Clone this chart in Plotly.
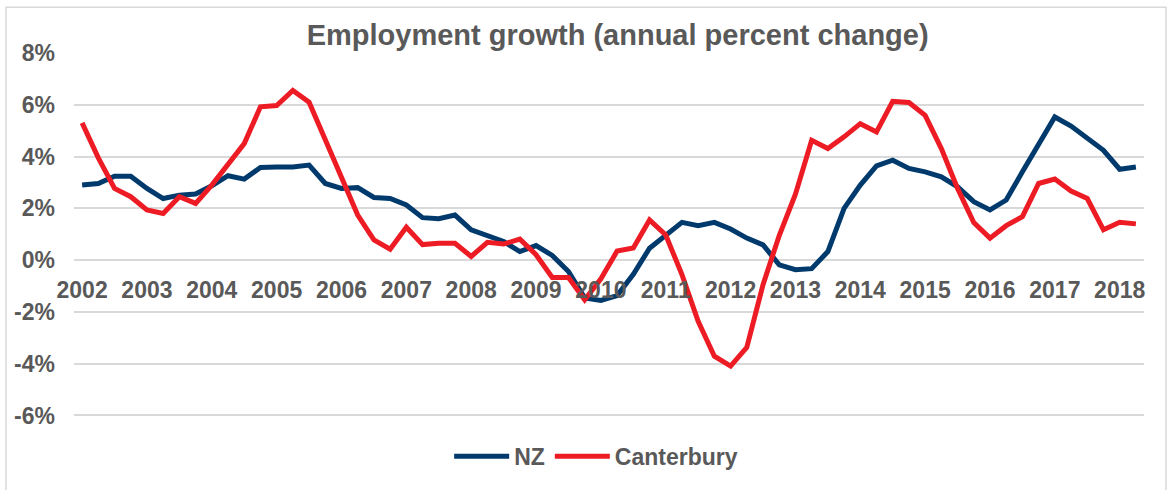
import plotly.graph_objects as go

# ---- data ----
quarters = [f"{y}Q{q}" for y in range(2002, 2019) for q in range(1, 5)][:66]
year_labels = [str(y) for y in range(2002, 2019)]
year_ticks = [f"{y}Q1" for y in range(2002, 2019)]

nz = [2.9, 2.96, 3.24, 3.24, 2.77, 2.38, 2.51, 2.55, 2.87, 3.26, 3.13, 3.58,
      3.6, 3.6, 3.67, 2.96, 2.77, 2.8, 2.42, 2.38, 2.13, 1.64, 1.6,
      1.74, 1.17, 0.95, 0.72, 0.33, 0.56, 0.18, -0.44, -1.46, -1.56, -1.37,
      -0.55, 0.46, 0.97, 1.46, 1.33, 1.46, 1.2, 0.85, 0.59, -0.18, -0.37,
      -0.33, 0.33, 2.0, 2.9, 3.64, 3.86, 3.54, 3.41, 3.22, 2.83, 2.26,
      1.94, 2.32, 3.41, 4.5, 5.53, 5.18, 4.72, 4.24, 3.51, 3.6]

canterbury = [5.3, 3.95, 2.77, 2.45, 1.94, 1.8, 2.45, 2.19, 2.9, 3.73, 4.5, 5.92,
              5.97, 6.55, 6.1, 4.65, 3.2, 1.74, 0.78, 0.42, 1.27, 0.6, 0.65,
              0.65, 0.14, 0.69, 0.62, 0.81, 0.21, -0.67, -0.67, -1.53, -0.72, 0.35,
              0.47, 1.55, 0.97, -0.56, -2.36, -3.71, -4.09, -3.37, -0.95, 0.95, 2.55,
              4.63, 4.31, 4.76, 5.27, 4.95, 6.13, 6.09, 5.59, 4.31, 2.77, 1.45,
              0.85, 1.33, 1.68, 2.96, 3.13, 2.67, 2.38, 1.17, 1.46, 1.4]

y_ticks = [-6, -4, -2, 0, 2, 4, 6, 8]
y_labels = [f"{v}%" for v in y_ticks]

# ---- style ----
FONT = "Liberation Sans, Arial, sans-serif"
GREY = "#595959"
NAVY = "#003A6C"
RED = "#ED1C24"

YMIN, YMAX = -6.6, 8.0

fig = go.Figure()
fig.add_trace(go.Scatter(x=quarters, y=nz, mode="lines", name="NZ",
                         line=dict(color=NAVY, width=5)))
fig.add_trace(go.Scatter(x=quarters, y=canterbury, mode="lines", name="Canterbury",
                         line=dict(color=RED, width=5)))

zero_pos = (0 - YMIN) / (YMAX - YMIN)

fig.update_layout(
    width=1172, height=490,
    margin=dict(l=74, r=28, t=53, b=57),
    paper_bgcolor="white", plot_bgcolor="white",
    font=dict(family=FONT, color=GREY),
    title=dict(text="Employment growth (annual percent change)",
               font=dict(family=FONT, size=29, color=GREY, weight=700),
               x=0.527, xref="container", xanchor="center",
               y=1 - 35 / 490, yref="container", yanchor="middle"),
    xaxis=dict(type="category", range=[-0.5, 65.5],
               tickvals=year_ticks, ticktext=year_labels,
               showgrid=False, showline=False, zeroline=False, ticks="",
               anchor="free", position=zero_pos, ticklabelstandoff=14,
               tickfont=dict(family=FONT, size=23, color=GREY, weight=700)),
    yaxis=dict(range=[YMIN, YMAX], tickvals=y_ticks, ticktext=y_labels,
               showgrid=True, gridcolor="#D9D9D9", gridwidth=1.5,
               zeroline=False, showline=False, ticks="", ticklabelstandoff=18,
               tickfont=dict(family=FONT, size=23, color=GREY, weight=700)),
    legend=dict(orientation="h", x=0.488, xanchor="center",
                y=-0.067, yanchor="middle",
                font=dict(family=FONT, size=23, color=GREY, weight=700),
                bgcolor="rgba(0,0,0,0)", itemwidth=55),
    showlegend=True,
)

# outer chart border
fig.add_shape(type="rect", xref="paper", yref="paper",
              x0=(6 - 74) / 1070, x1=(1166 - 74) / 1070,
              y0=-0.16, y1=1 + (53 - 7) / 380,
              line=dict(color="#D9D9D9", width=1.5), fillcolor="rgba(0,0,0,0)",
              layer="below")

fig.write_html("out.html", config={"displayModeBar": False},
               post_script="document.body.style.margin='0';")
